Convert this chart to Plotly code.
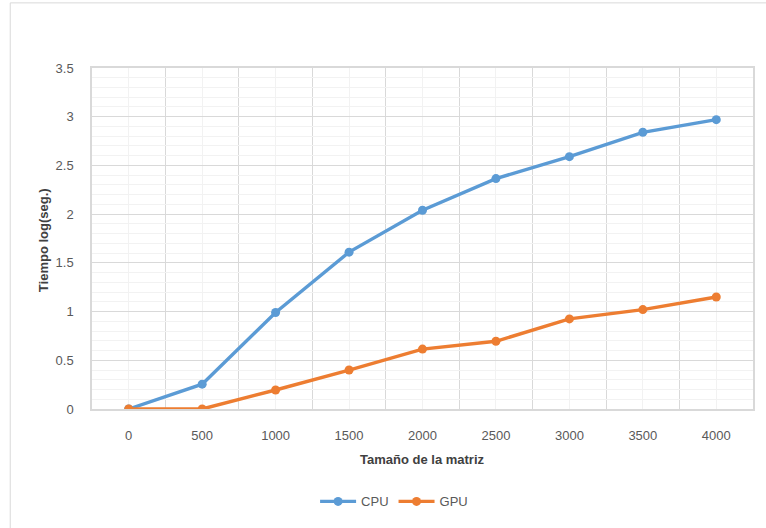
import plotly.graph_objects as go

# Tamaño de la matriz (categorías del eje X)
tamanos = [0, 500, 1000, 1500, 2000, 2500, 3000, 3500, 4000]
# Tiempo log(seg.) por serie
cpu = [0.0, 0.255, 0.99, 1.61, 2.04, 2.365, 2.59, 2.84, 2.97]
gpu = [0.0, 0.0, 0.195, 0.40, 0.615, 0.695, 0.925, 1.02, 1.15]
y_ticks = [0, 0.5, 1, 1.5, 2, 2.5, 3, 3.5]
y_tick_text = ["0", "0.5", "1", "1.5", "2", "2.5", "3", "3.5"]

AZUL = "#5B9BD5"
NARANJA = "#ED7D31"
FONT = "Liberation Sans"
TXT = "#595959"

fig = go.Figure()
fig.add_trace(go.Scatter(
    x=tamanos, y=cpu, name="CPU", mode="lines+markers",
    line=dict(color=AZUL, width=3.4), marker=dict(color=AZUL, size=9),
))
fig.add_trace(go.Scatter(
    x=tamanos, y=gpu, name="GPU", mode="lines+markers",
    line=dict(color=NARANJA, width=3.4), marker=dict(color=NARANJA, size=9),
))

L, R, T, B = 92, 755, 68, 411
W, H = 766, 528

fig.update_layout(
    width=W, height=H,
    margin=dict(l=L, r=W - R, t=T, b=H - B),
    paper_bgcolor="white", plot_bgcolor="white",
    font=dict(family=FONT, size=13, color=TXT),
    showlegend=True,
    legend=dict(
        orientation="h", x=(395 - L) / (R - L), xanchor="center",
        y=(B - 504) / (B - T), yanchor="middle",
        font=dict(family=FONT, size=13, color=TXT),
        itemwidth=36, tracegroupgap=0, bgcolor="rgba(0,0,0,0)",
    ),
    xaxis=dict(
        range=[-250, 4250],
        tickmode="array", tickvals=tamanos, ticktext=[str(t) for t in tamanos],
        showgrid=True, gridcolor="#F2F2F2", gridwidth=1,
        minor=dict(tickmode="linear", tick0=250, dtick=500,
                   showgrid=True, gridcolor="#D9D9D9", gridwidth=1, ticks=""),
        showline=True, linecolor="#D9D9D9", linewidth=1.5, mirror=True,
        zeroline=False, ticks="", ticklabelstandoff=14,
        tickfont=dict(family=FONT, size=13, color=TXT),
    ),
    yaxis=dict(
        range=[0, 3.5],
        tickmode="array", tickvals=y_ticks, ticktext=y_tick_text,
        showgrid=True, gridcolor="#D9D9D9", gridwidth=1,
        minor=dict(tickmode="linear", tick0=0, dtick=0.1,
                   showgrid=True, gridcolor="#F2F2F2", gridwidth=1, ticks=""),
        showline=True, linecolor="#D9D9D9", linewidth=1.5, mirror=True,
        zeroline=False, ticks="", ticklabelstandoff=14,
        tickfont=dict(family=FONT, size=13, color=TXT),
    ),
    shapes=[
        dict(type="rect", xref="paper", yref="paper",
             x0=(10 - L) / (R - L), x1=(W + 20 - L) / (R - L),
             y0=(B - (H + 20)) / (B - T), y1=(B - 2.5) / (B - T),
             line=dict(color="#D9D9D9", width=1), fillcolor="rgba(0,0,0,0)",
             layer="below"),
    ],
    annotations=[
        dict(text="<b>Tamaño de la matriz</b>", xref="paper", yref="paper",
             x=(423 - L) / (R - L), y=(B - 462) / (B - T),
             xanchor="center", yanchor="middle", showarrow=False,
             font=dict(family=FONT, size=13, color="#404040")),
        dict(text="<b>Tiempo log(seg.)</b>", xref="paper", yref="paper",
             x=(44 - L) / (R - L), y=(B - 241) / (B - T), textangle=-90,
             xanchor="center", yanchor="middle", showarrow=False,
             font=dict(family=FONT, size=13, color="#404040")),
    ],
)

fig.write_html("out.html")
